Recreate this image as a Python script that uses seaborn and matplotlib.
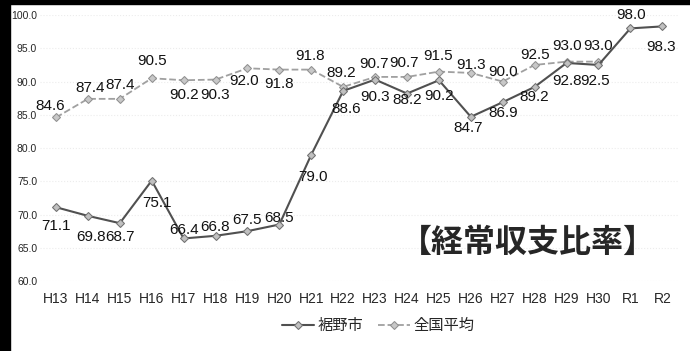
import matplotlib
matplotlib.use("Agg")
import matplotlib.pyplot as plt
import matplotlib.patches as mpatches
import numpy as np
import pandas as pd
import seaborn as sns

# fiscal years (Heisei / Reiwa)
years = ["H13", "H14", "H15", "H16", "H17", "H18", "H19", "H20", "H21", "H22",
         "H23", "H24", "H25", "H26", "H27", "H28", "H29", "H30", "R1", "R2"]

# 裾野市 ordinary balance ratio
susono = [71.1, 69.8, 68.7, 75.1, 66.4, 66.8, 67.5, 68.5, 79.0, 88.6,
          90.3, 88.2, 90.2, 84.7, 86.9, 89.2, 92.8, 92.5, 98.0, 98.3]

# 全国平均 (no values for R1, R2)
national = [84.6, 87.4, 87.4, 90.5, 90.2, 90.3, 92.0, 91.8, 91.8, 89.2,
            90.7, 90.7, 91.5, 91.3, 90.0, 92.5, 93.0, 93.0, np.nan, np.nan]

# label offsets in pixels (dx, dy)
susono_off = [(0, -19), (3, -21), (0, -14), (5, -22), (0, 8), (0, 9), (0, 11), (0, 7),
              (2, -22), (3, -18), (0, -17), (0, -6), (0, -16), (-3, -11), (0, -11),
              (0, -10), (0, -18), (-3, -16), (1, 13), (-1, -21)]
national_off = [(-6, 11), (2, 11), (0, 14), (0, 17), (0, -15), (0, -15), (-3, -13),
                (0, -14), (-1, 14), (-2, 14), (-1, 13), (-3, 14), (-1, 16), (0, 8),
                (0, 10), (0, 10), (0, 16), (0, 16), (0, 0), (0, 0)]

df = pd.DataFrame({"year": years, "裾野市": susono, "全国平均": national})
df["x"] = np.arange(len(years))

sns.set_style("white")
plt.rcParams["font.family"] = ["Liberation Sans", "Noto Sans CJK JP", "DejaVu Sans"]

fig = plt.figure(figsize=(6.9, 3.51), dpi=100)
ax = fig.add_axes([0.058, 0.1994, 0.925, 0.7576])

sns.lineplot(data=df, x="x", y="全国平均", ax=ax, color="#a0a0a0", linewidth=1.3,
             dashes=(3, 3), linestyle="--", marker="D", markersize=4.5,
             markerfacecolor="#c8c8c8", markeredgecolor="#909090", label="全国平均")
sns.lineplot(data=df, x="x", y="裾野市", ax=ax, color="#505050", linewidth=1.5,
             marker="D", markersize=4.5, markerfacecolor="#c0c0c0",
             markeredgecolor="#707070", label="裾野市")

for i, v in enumerate(susono):
    dx, dy = susono_off[i]
    ax.annotate(f"{v:.1f}", (i, v), xytext=(dx, dy), textcoords="offset pixels",
                ha="center", va="center", fontsize=11, color="#111111")
for i, v in enumerate(national):
    if np.isnan(v):
        continue
    dx, dy = national_off[i]
    ax.annotate(f"{v:.1f}", (i, v), xytext=(dx, dy), textcoords="offset pixels",
                ha="center", va="center", fontsize=11, color="#111111")

ax.set_xlim(-0.5, len(years) - 0.5)
ax.set_ylim(60, 100)
ax.set_yticks(np.arange(60, 101, 5))
ax.set_yticklabels([f"{t:.1f}" for t in np.arange(60, 101, 5)], fontsize=7.5)
ax.set_xticks(df["x"])
ax.set_xticklabels(years, fontsize=10)
ax.tick_params(axis="y", pad=2, length=0)
ax.tick_params(axis="x", pad=8, length=0)
ax.set_xlabel("")
ax.set_ylabel("")
for s in ax.spines.values():
    s.set_visible(False)
ax.grid(axis="y", color="#ececec", linestyle=":", linewidth=0.8)

ax.text(0.765, 0.143, "【経常収支比率】", transform=ax.transAxes, ha="center",
        va="center", fontsize=23, fontweight="bold",
        family=["Noto Sans CJK JP", "DejaVu Sans"])

handles, labels = ax.get_legend_handles_labels()
order = [1, 0]
fig.legend([handles[i] for i in order], [labels[i] for i in order],
           loc="center", bbox_to_anchor=(0.548, 0.073), ncol=2, frameon=False,
           handlelength=2.1, columnspacing=1.0, handletextpad=0.2,
           prop={"family": ["Noto Sans CJK JP", "DejaVu Sans"], "size": 11})
ax.get_legend().remove()

# scanned page edges
fig.patches.append(mpatches.Rectangle((0, 0), 10 / 690, 1, transform=fig.transFigure,
                                      color="black", zorder=10))
fig.patches.append(mpatches.Rectangle((0, 1 - 4 / 351), 1, 4 / 351, transform=fig.transFigure,
                                      color="black", zorder=10))

fig.savefig("out.png", dpi=100)
